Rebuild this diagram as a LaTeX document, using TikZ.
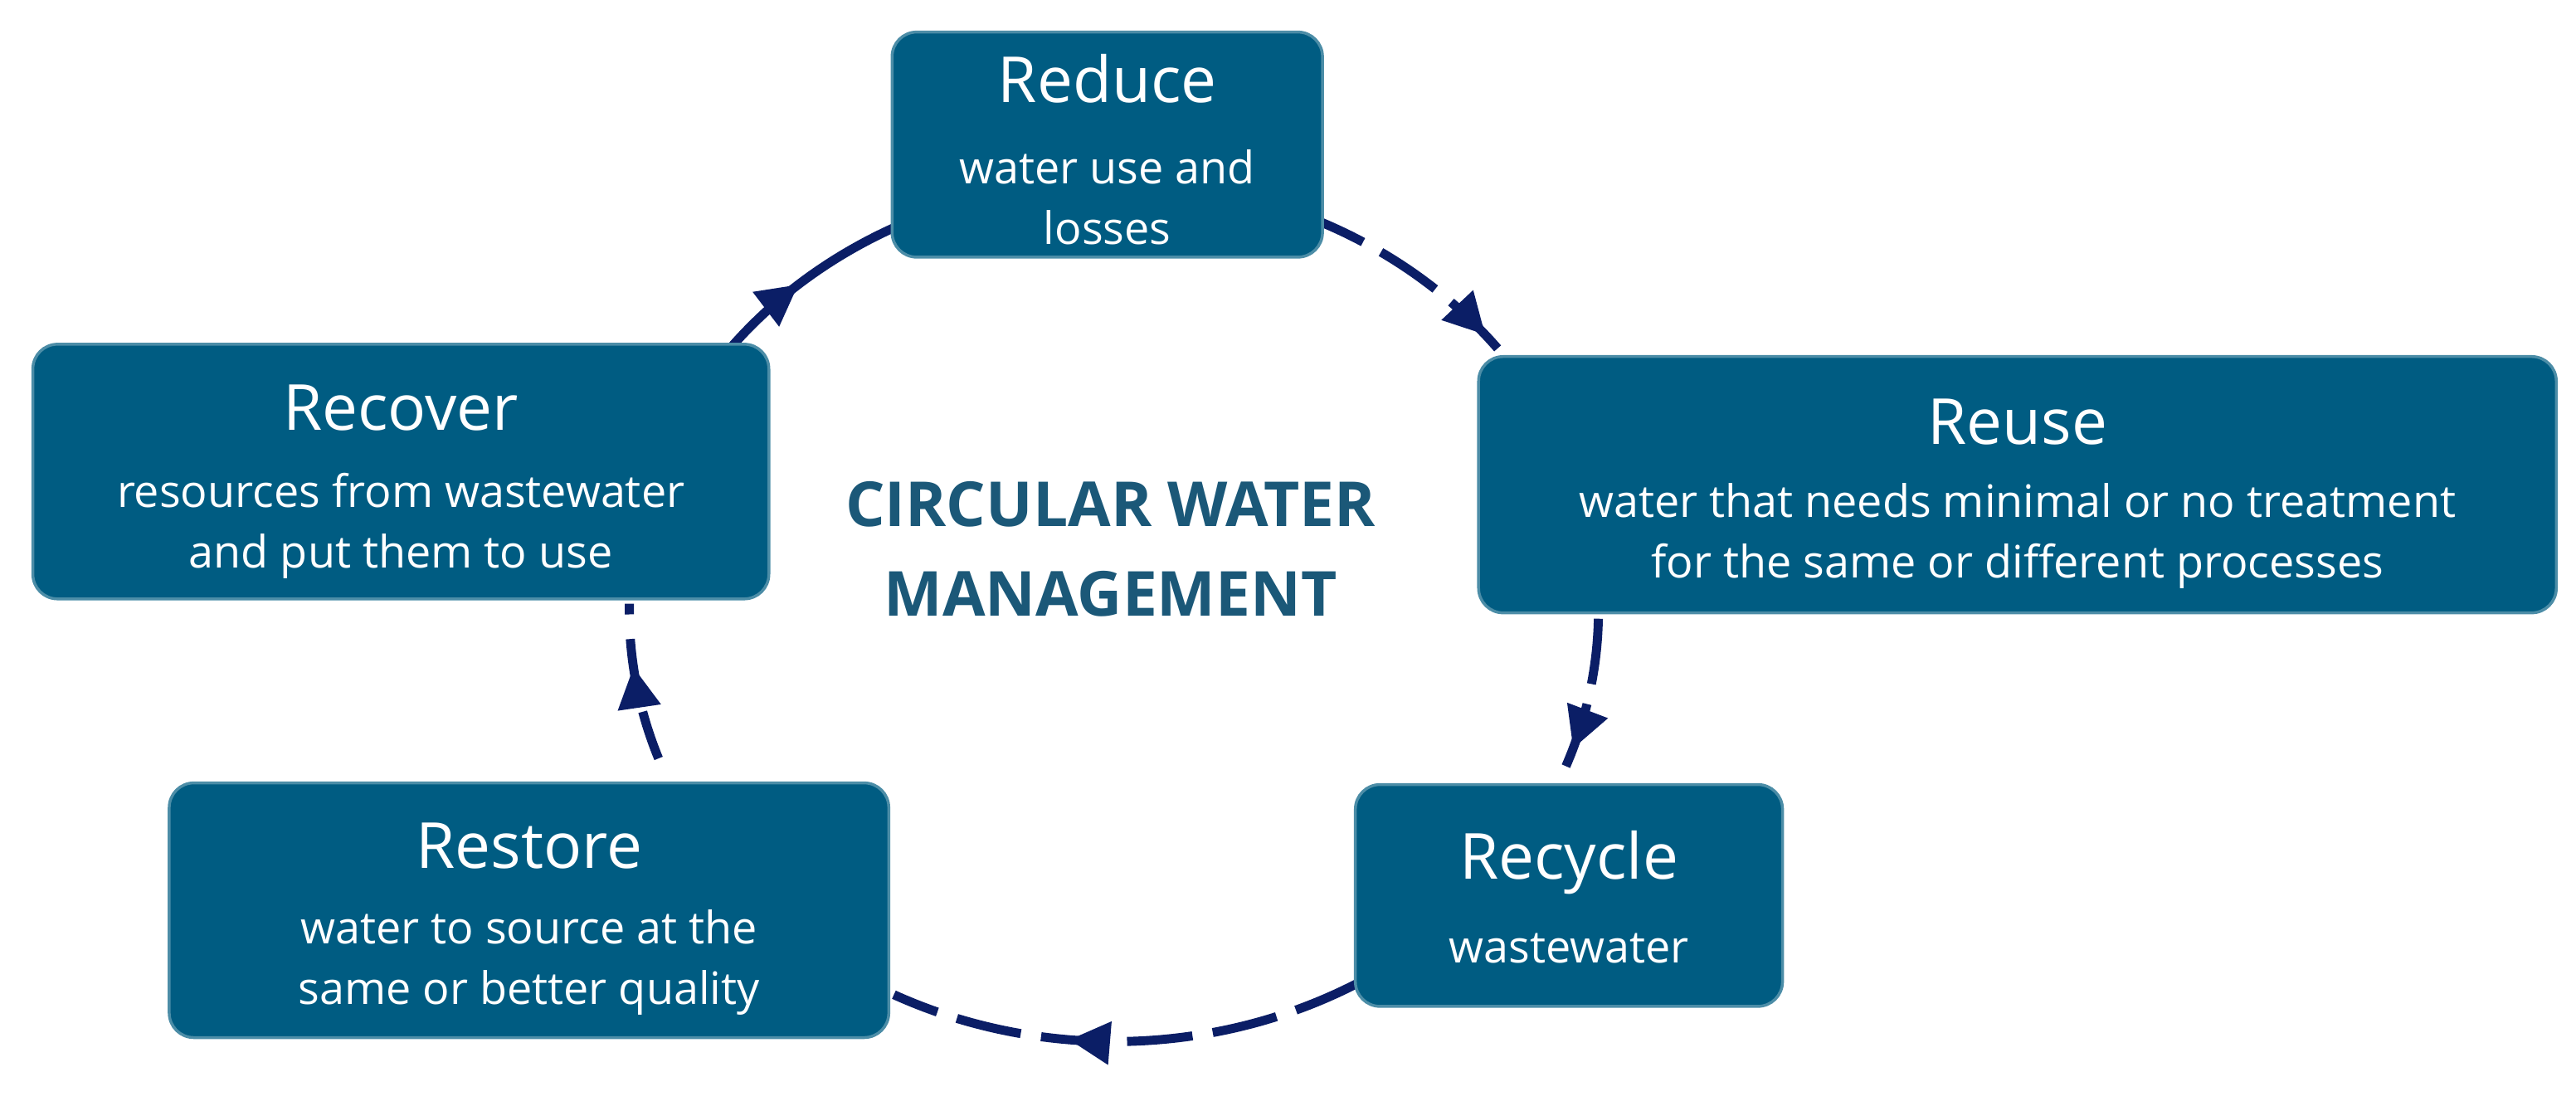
\documentclass[tikz,border=0pt]{standalone}
\usepackage{fontspec}
\setmainfont{Open Sans}
\usetikzlibrary{arrows.meta,decorations.markings}
\definecolor{boxc}{HTML}{005C82}
\definecolor{arrc}{HTML}{0B1E66}
\definecolor{titc}{HTML}{1B5878}
\tikzset{
 box/.style={fill=boxc,draw=boxc!70!white,line width=1pt,rounded corners=0.3cm,text=white,align=center,inner sep=0pt},
 cyc/.style={draw=arrc,line width=0.11cm,dash pattern=on 0.8cm off 0.25cm},
 tipat/.style={postaction={decorate,decoration={markings,mark=at position #1 with {\arrow[arrc]{Triangle[length=0.5cm,width=0.5cm]}}}}},
 hd/.style={font=\fontsize{22}{26}\selectfont},
 bd/.style={font=\fontsize{15.5}{21}\selectfont}
}
\begin{document}
\begin{tikzpicture}[x=0.02cm,y=-0.02cm]
\useasboundingbox (0,0) rectangle (1568,673);
\coordinate (C) at (678,372);
% arcs
\draw[cyc,solid,tipat=0.45] ([shift={(142:5.9cm and 5.24cm)}]C) arc[start angle=142,end angle=117,x radius=5.9cm,y radius=5.24cm];
\draw[cyc,tipat=0.85] ([shift={(67:5.9cm and 5.24cm)}]C) arc[start angle=67,end angle=35,x radius=5.9cm,y radius=5.24cm];
\draw[cyc,tipat=0.8] ([shift={(-1:5.9cm and 5.24cm)}]C) arc[start angle=-1,end angle=-23,x radius=5.9cm,y radius=5.24cm];
\draw[cyc,tipat=0.62] ([shift={(-60:5.9cm and 5.24cm)}]C) arc[start angle=-60,end angle=-117,x radius=5.9cm,y radius=5.24cm];
\draw[cyc,dash pattern=on 0.6cm off 0.3cm,tipat=0.6] ([shift={(-160:5.9cm and 5.24cm)}]C) arc[start angle=-160,end angle=-181,x radius=5.9cm,y radius=5.24cm];
% boxes
\node[box,minimum width=262*0.02cm,minimum height=137*0.02cm] (reduce) at (674,88) {};
\node[hd,text=white] at (674,48) {Reduce};
\node[bd,text=white,align=center] at (674,120) {water use and\\losses};
\node[box,minimum width=448*0.02cm,minimum height=155*0.02cm] (recover) at (244,287) {};
\node[hd,text=white] at (244,248) {Recover};
\node[bd,text=white,align=center] at (244,320) {resources from wastewater\\and put them to use};
\node[box,minimum width=656*0.02cm,minimum height=156*0.02cm] (reuse) at (1228,295) {};
\node[hd,text=white] at (1228,257) {Reuse};
\node[bd,text=white,align=center] at (1228,326) {water that needs minimal or no treatment\\for the same or different processes};
\node[box,minimum width=260*0.02cm,minimum height=135*0.02cm] (recycle) at (955,545) {};
\node[hd,text=white] at (955,525) {Recycle};
\node[bd,text=white] at (955,577) {wastewater};
\node[box,minimum width=438*0.02cm,minimum height=155*0.02cm] (restore) at (322,554) {};
\node[hd,text=white] at (322,515) {Restore};
\node[bd,text=white,align=center] at (322,586) {water to source at the\\same or better quality};
\node[font=\fontsize{21.5}{31}\selectfont\bfseries,text=titc,align=center] (title) at (676,334) {CIRCULAR WATER\\MANAGEMENT};
\end{tikzpicture}
\end{document}
